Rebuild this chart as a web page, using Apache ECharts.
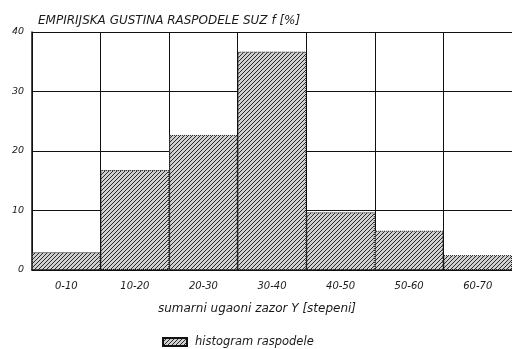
<!DOCTYPE html>
<html>
<head>
<meta charset="utf-8">
<script src="https://cdn.jsdelivr.net/npm/echarts@6/dist/echarts.min.js"></script>
<style>html,body{margin:0;padding:0;background:#fff}#c{width:512px;height:349px}</style>
</head>
<body>
<div id="c"></div>
<script>
const categories = ['0-10', '10-20', '20-30', '30-40', '40-50', '50-60', '60-70'];
const frequencies = [3, 16.8, 22.7, 36.7, 9.7, 6.6, 2.5];
const yTicks = [0, 10, 20, 30, 40];
const titleText = 'EMPIRIJSKA GUSTINA RASPODELE SUZ f [%]';
const xAxisName = 'sumarni ugaoni zazor Y [stepeni]';
const seriesName = 'histogram raspodele';

function hatch() {
  const c = document.createElement('canvas');
  c.width = 4; c.height = 4;
  const g = c.getContext('2d');
  g.fillStyle = '#d0d0d0';
  g.fillRect(0, 0, 4, 4);
  g.strokeStyle = '#2a2a2a';
  g.lineWidth = 1;
  g.beginPath();
  g.moveTo(-1, 5); g.lineTo(5, -1);
  g.moveTo(-1, 1); g.lineTo(1, -1);
  g.moveTo(3, 5); g.lineTo(5, 3);
  g.stroke();
  return c;
}

const font = 'DejaVu Sans';
const txt = '#1a1a1a';
const chart = echarts.init(document.getElementById('c'), null, {renderer: 'canvas'});
chart.setOption({
  animation: false,
  backgroundColor: '#fff',
  title: {
    text: titleText, left: 33, top: 10,
    textStyle: {fontFamily: font, fontStyle: 'italic', fontWeight: 'normal', fontSize: 12, color: txt}
  },
  legend: {
    data: [seriesName], left: 157, top: 331, icon: 'rect', itemWidth: 24, itemHeight: 8, itemGap: 8,
    textStyle: {fontFamily: font, fontStyle: 'italic', fontSize: 11.5, color: txt, padding: [0, 0, 0, 3]}
  },
  grid: {left: 32, right: -2, top: 32, bottom: 79},
  xAxis: {
    type: 'category', data: categories,
    name: xAxisName, nameLocation: 'middle', nameGap: 33,
    nameTextStyle: {fontFamily: font, fontStyle: 'italic', fontSize: 12, color: txt, padding: [0, 30, 0, 0]},
    axisLine: {lineStyle: {color: '#111', width: 1.5}},
    axisTick: {show: false},
    axisLabel: {fontFamily: font, fontStyle: 'italic', fontSize: 10, color: txt, margin: 11},
    splitLine: {show: true, lineStyle: {color: '#111', width: 1}}
  },
  yAxis: {
    type: 'value', min: 0, max: 40, interval: 10,
    axisLine: {show: true, lineStyle: {color: '#111', width: 1.5}},
    axisTick: {show: false},
    axisLabel: {fontFamily: font, fontStyle: 'italic', fontSize: 9.5, color: txt, margin: 8,
      formatter: v => yTicks.includes(v) ? String(v) : ''},
    splitLine: {show: true, lineStyle: {color: '#111', width: 1}}
  },
  series: [{
    name: seriesName, type: 'bar', data: frequencies,
    barCategoryGap: 0,
    itemStyle: {color: {image: hatch(), repeat: 'repeat'}, borderColor: '#111', borderWidth: 1, borderType: 'dotted'}
  }]
});
</script>
</body>
</html>
